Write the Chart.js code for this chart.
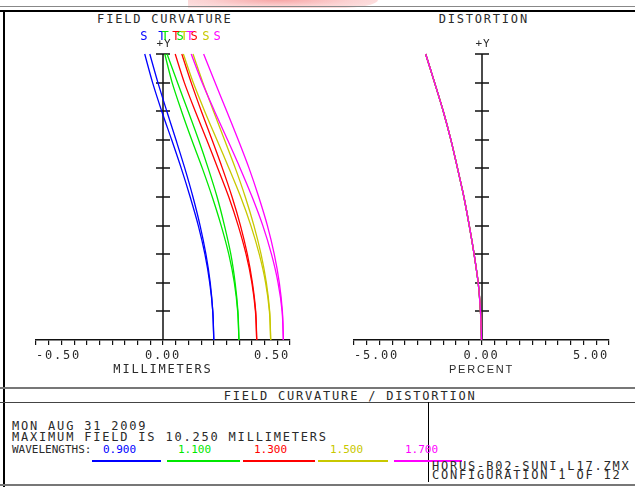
<!DOCTYPE html>
<html>
<head>
<meta charset="utf-8">
<script src="https://cdn.jsdelivr.net/npm/chart.js@4.4.1/dist/chart.umd.min.js"></script>
<style>
  html, body { margin: 0; padding: 0; background: #fff; }
  #page { position: relative; width: 635px; height: 487px; overflow: hidden; background: #fff; }
  .txt { position: absolute; font: 12px "DejaVu Sans Mono", monospace; letter-spacing: 1.8px; line-height: 12px; color: #2a2a2a; white-space: nowrap; }
  .small { font-size: 11px; letter-spacing: 0; line-height: 11px; }
  .rule { position: absolute; }
  canvas { position: absolute; top: 0; }
</style>
</head>
<body>
<div id="page">
  <!-- frame -->
  <div class="rule" style="left:188px;top:0;width:190px;height:8px;border-bottom-right-radius:40px 8px;background:radial-gradient(ellipse 120px 10px at 90px 0px, rgba(246,150,150,0.85), rgba(251,205,205,0.9) 60%, rgba(253,220,220,0.8) 100%);"></div>
  <div class="rule" style="left:0;top:6px;width:635px;height:1px;background:#888;"></div>
  <div class="rule" style="left:0;top:10px;width:635px;height:2px;background:#000;"></div>
  <div class="rule" style="left:3px;top:10px;width:2px;height:477px;background:#000;"></div>
  <div class="rule" style="left:0;top:387px;width:635px;height:2px;background:#777;"></div>
  <div class="rule" style="left:0;top:402px;width:635px;height:1px;background:#444;"></div>
  <div class="rule" style="left:0;top:484px;width:635px;height:2px;background:#777;"></div>
  <div class="rule" style="left:428px;top:402px;width:1px;height:80px;background:#000;"></div>

  <!-- titles -->
  <div class="txt" style="left:63px;top:13px;width:200px;text-align:center;padding-left:1.8px;">FIELD CURVATURE</div>
  <div class="txt" style="left:382px;top:13px;width:200px;text-align:center;padding-left:1.8px;">DISTORTION</div>

  <!-- info block -->
  <div class="txt" style="left:222px;top:390px;width:200px;text-align:center;padding-left:1.8px;">FIELD CURVATURE / DISTORTION</div>
  <div class="txt" style="left:12px;top:420px;">MON AUG 31 2009</div>
  <div class="txt" style="left:12px;top:431px;">MAXIMUM FIELD IS 10.250 MILLIMETERS</div>
  <div id="waveRow"></div>
  <div class="txt" style="left:432px;top:460px;">HORUS-B02-SUNI.L17.ZMX</div>
  <div class="txt" style="left:432px;top:469px;">CONFIGURATION 1 OF 12</div>

  <canvas id="fieldChart" width="320" height="390" style="left:0;"></canvas>
  <canvas id="distChart" width="315" height="390" style="left:320px;"></canvas>
</div>

<script>
// relative field height (max field = 10.250 mm)
const fieldHeights = [0, 0.1, 0.2, 0.3, 0.4, 0.5, 0.6, 0.7, 0.8, 0.9, 1.0];
const wavelengths = ["0.900", "1.100", "1.300", "1.500", "1.700"];

// field curvature, millimeters (S = sagittal, T = tangential)
const sag0900 = [0.200, 0.196, 0.184, 0.165, 0.139, 0.107, 0.072, 0.034, -0.005, -0.041, -0.072];
const tan0900 = [0.200, 0.196, 0.186, 0.169, 0.146, 0.118, 0.086, 0.051, 0.015, -0.020, -0.052];
const tan1100 = [0.299, 0.294, 0.281, 0.259, 0.229, 0.194, 0.155, 0.113, 0.073, 0.036, 0.007];
const sag1100 = [0.299, 0.295, 0.284, 0.267, 0.242, 0.213, 0.178, 0.140, 0.099, 0.057, 0.016];
const tan1300 = [0.369, 0.364, 0.350, 0.327, 0.296, 0.259, 0.216, 0.172, 0.127, 0.084, 0.048];
const sag1300 = [0.369, 0.365, 0.352, 0.332, 0.305, 0.272, 0.234, 0.193, 0.151, 0.111, 0.074];
const tan1500 = [0.424, 0.419, 0.404, 0.379, 0.346, 0.306, 0.260, 0.212, 0.164, 0.119, 0.080];
const sag1500 = [0.424, 0.420, 0.407, 0.386, 0.358, 0.324, 0.285, 0.242, 0.199, 0.157, 0.118];
const tan1700 = [0.474, 0.469, 0.453, 0.427, 0.393, 0.351, 0.304, 0.254, 0.203, 0.154, 0.111];
const sag1700 = [0.474, 0.470, 0.458, 0.438, 0.411, 0.377, 0.339, 0.296, 0.251, 0.205, 0.160];

// distortion, percent (same for every wavelength at this scale)
const distortion = [0, -0.04, -0.13, -0.29, -0.48, -0.69, -0.94, -1.20, -1.50, -1.84, -2.19];

// labelled ticks
const mmTicks = [-0.5, 0, 0.5];
const percentTicks = [-5, 0, 5];

// S / T markers above the curves: [text, wavelength index, value in mm]
const curveTags = [
  ["S", 0, -0.075], ["T", 0, -0.004],
  ["T", 1, 0.008], ["S", 1, 0.067],
  ["T", 2, 0.051], ["S", 2, 0.122],
  ["T", 3, 0.083], ["S", 3, 0.169],
  ["T", 4, 0.106], ["S", 4, 0.213],
];

const waveColors = ["#0000ff", "#00e800", "#ff0000", "#c8c800", "#ff00ff"];
const MONO = '"DejaVu Sans Mono", monospace';

// wavelength legend row
const waveRow = document.getElementById("waveRow");
const waveTextX = [103, 178, 254, 330, 405];
const waveLine = [[92, 161], [167, 240], [243, 315], [318, 388], [394, 462]];
waveRow.innerHTML =
  '<div class="txt small" style="left:12px;top:444px;">WAVELENGTHS:</div>' +
  wavelengths.map((w, i) =>
    `<div class="txt small" style="left:${waveTextX[i]}px;top:444px;color:${waveColors[i]};">${w}</div>` +
    `<div class="rule" style="left:${waveLine[i][0]}px;top:460px;width:${waveLine[i][1] - waveLine[i][0]}px;height:2px;background:${waveColors[i]};"></div>`
  ).join("");

function curve(values, color) {
  return {
    data: fieldHeights.map((f, k) => ({ x: values[k], y: f })),
    borderColor: color,
    borderWidth: 1.3,
    pointRadius: 0,
    fill: false,
    tension: 0.3,
    clip: false,
  };
}

function tickLabel(list) {
  return (v) => {
    const r = Math.round(v * 100) / 100;
    return list.some((t) => Math.abs(t - r) < 1e-9) ? (r === 0 ? 0 : r).toFixed(2) : "";
  };
}

// vertical +Y axis through zero with cross ticks, plus curve tags
const crossAxis = {
  id: "crossAxis",
  beforeDraw(chart) {
    chart.ctx.letterSpacing = "1.8px";
  },
  beforeDatasetsDraw(chart, args, opts) {
    const { ctx } = chart;
    const x = chart.scales.x;
    const y = chart.scales.y;
    const x0 = Math.round(x.getPixelForValue(0));
    ctx.save();
    ctx.strokeStyle = "#111";
    ctx.lineWidth = 1.5;
    ctx.beginPath();
    ctx.moveTo(x0, y.getPixelForValue(0));
    ctx.lineTo(x0, y.getPixelForValue(1));
    fieldHeights.slice(1).forEach((f) => {
      const py = Math.round(y.getPixelForValue(f));
      ctx.moveTo(x0 - 7, py);
      ctx.lineTo(x0 + 7, py);
    });
    ctx.stroke();

    ctx.fillStyle = "#2a2a2a";
    ctx.font = "11px " + MONO;
    ctx.letterSpacing = "1px";
    ctx.textAlign = "center";
    ctx.textBaseline = "alphabetic";
    ctx.fillText("+Y", x0 + 1, y.top - 7);

    if (opts.tags) {
      ctx.font = "12px " + MONO;
      ctx.letterSpacing = "0px";
      opts.tags.forEach(([t, i, v]) => {
        ctx.fillStyle = waveColors[i];
        ctx.fillText(t, x.getPixelForValue(v), y.top - 14.5);
      });
    }
    ctx.restore();
  },
};

function baseOptions(min, max, step, list, title, titleFont, pad, tags) {
  return {
    responsive: false,
    animation: false,
    devicePixelRatio: 1,
    indexAxis: "y",
    layout: { padding: pad },
    plugins: {
      legend: { display: false },
      tooltip: { enabled: false },
      crossAxis: { tags: tags },
    },
    scales: {
      x: {
        type: "linear",
        position: "bottom",
        min: min,
        max: max,
        afterFit(scale) { scale.height = 40; },
        border: { display: true, color: "#111", width: 1.5 },
        grid: { display: true, drawOnChartArea: false, drawTicks: true, tickLength: 5, color: "#111", lineWidth: 1.2 },
        ticks: {
          stepSize: step,
          maxTicksLimit: 100,
          autoSkip: false,
          maxRotation: 0,
          align: "inner",
          padding: 4,
          color: "#2a2a2a",
          font: { family: MONO, size: 12 },
          callback: tickLabel(list),
        },
        title: {
          display: true,
          text: title,
          color: "#2a2a2a",
          font: titleFont,
          padding: { top: 0, bottom: 3 },
        },
      },
      y: { type: "linear", min: 0, max: 1, display: false },
    },
  };
}

// Chart.js paints the first dataset last, so the 1.700 set goes first to sit on top
const fieldSets = [
  curve(tan1700, waveColors[4]), curve(sag1700, waveColors[4]),
  curve(tan1500, waveColors[3]), curve(sag1500, waveColors[3]),
  curve(tan1300, waveColors[2]), curve(sag1300, waveColors[2]),
  curve(tan1100, waveColors[1]), curve(sag1100, waveColors[1]),
  curve(sag0900, waveColors[0]), curve(tan0900, waveColors[0]),
];

new Chart(document.getElementById("fieldChart"), {
  type: "line",
  data: { datasets: fieldSets },
  options: baseOptions(-0.5, 0.5, 0.05, mmTicks, "MILLIMETERS",
    { family: MONO, size: 12 },
    { left: 36, right: 30, top: 54, bottom: 10 }, curveTags),
  plugins: [crossAxis],
});

new Chart(document.getElementById("distChart"), {
  type: "line",
  data: { datasets: waveColors.slice().reverse().map((c) => curve(distortion, c)) },
  options: baseOptions(-5, 5, 0.5, percentTicks, "PERCENT",
    { family: "Liberation Sans", size: 11 },
    { left: 34, right: 26, top: 54, bottom: 10 }, null),
  plugins: [crossAxis],
});
</script>
</body>
</html>
